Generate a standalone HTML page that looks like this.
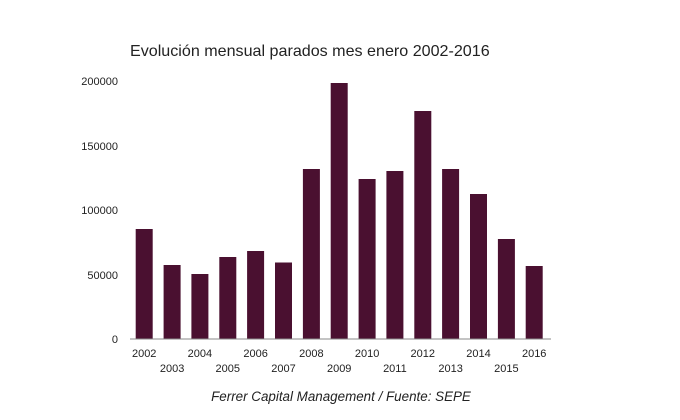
<!DOCTYPE html>
<html><head><meta charset="utf-8"><style>
body{margin:0;background:#fff;}
svg{display:block;font-family:"Liberation Sans",Arial,sans-serif;}
</style></head><body>
<svg width="680" height="420" viewBox="0 0 680 420">
<text x="130" y="56" font-size="16.1" fill="#222">Evolución mensual parados mes enero 2002-2016</text>
<g font-size="11" fill="#222" text-anchor="end">
<text x="118" y="85">200000</text>
<text x="118" y="150">150000</text>
<text x="118" y="214">100000</text>
<text x="118" y="279">50000</text>
<text x="118" y="343">0</text>
</g>
<g fill="#4a1030">
<rect x="135.7" y="229" width="17" height="110"/>
<rect x="163.6" y="265" width="17" height="74"/>
<rect x="191.4" y="274" width="17" height="65"/>
<rect x="219.3" y="257" width="17" height="82"/>
<rect x="247.1" y="251" width="17" height="88"/>
<rect x="275" y="262.5" width="17" height="76.5"/>
<rect x="302.9" y="169" width="17" height="170"/>
<rect x="330.7" y="83" width="17" height="256"/>
<rect x="358.6" y="179" width="17" height="160"/>
<rect x="386.4" y="171" width="17" height="168"/>
<rect x="414.3" y="111" width="17" height="228"/>
<rect x="442.1" y="169" width="17" height="170"/>
<rect x="470" y="194" width="17" height="145"/>
<rect x="497.9" y="239" width="17" height="100"/>
<rect x="525.7" y="266" width="17" height="73"/>
</g>
<line x1="130" y1="339" x2="551" y2="339" stroke="#888" stroke-width="1"/>
<g font-size="11" fill="#222" text-anchor="middle">
<text x="144.2" y="357">2002</text>
<text x="172.1" y="372">2003</text>
<text x="199.9" y="357">2004</text>
<text x="227.8" y="372">2005</text>
<text x="255.6" y="357">2006</text>
<text x="283.5" y="372">2007</text>
<text x="311.4" y="357">2008</text>
<text x="339.2" y="372">2009</text>
<text x="367.1" y="357">2010</text>
<text x="394.9" y="372">2011</text>
<text x="422.8" y="357">2012</text>
<text x="450.6" y="372">2013</text>
<text x="478.5" y="357">2014</text>
<text x="506.4" y="372">2015</text>
<text x="534.2" y="357">2016</text>
</g>
<text x="341" y="401" font-size="13.4" font-style="italic" fill="#222" text-anchor="middle">Ferrer Capital Management / Fuente: SEPE</text>
</svg>
</body></html>
